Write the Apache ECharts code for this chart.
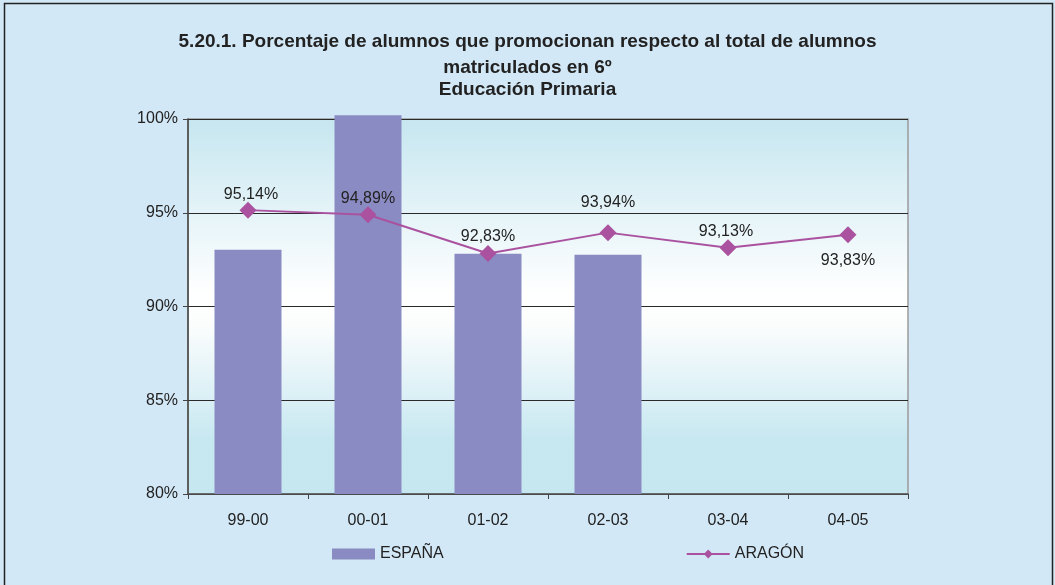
<!DOCTYPE html>
<html>
<head>
<meta charset="utf-8">
<script src="https://cdn.jsdelivr.net/npm/echarts@6/dist/echarts.min.js"></script>
<style>
  html, body { margin: 0; padding: 0; background: #d3e8f6; }
  #chart { width: 1055px; height: 585px; }
</style>
</head>
<body>
<div id="chart"></div>
<script>
// Cursos escolares
const categories = ['99-00', '00-01', '01-02', '02-03', '03-04', '04-05'];
// España: porcentaje de alumnos que promocionan (barras)
const espana = [93.03, 100.2, 92.81, 92.76, null, null];
// Aragón: porcentaje de alumnos que promocionan (línea)
const aragon = [95.14, 94.89, 92.83, 93.94, 93.13, 93.83];
// Líneas del título
const titleLines = [
  '5.20.1. Porcentaje de alumnos que promocionan respecto al total de alumnos',
  'matriculados en 6º',
  'Educación Primaria'
];
const titleTops = [32, 58, 80];
// Escala del eje de porcentajes
const yMin = 80, yMax = 100, yStep = 5;
// Posición de cada etiqueta de la línea
const aragonLabelPos = ['top', 'top', 'top', 'top', 'top', 'bottom'];
const aragonLabelShift = [[3, 2], [0, 1], [0, 1], [0, -13], [-2, 1], [0, 8]];

const font = 'Liberation Sans, Arial, Helvetica, sans-serif';
const fmt = v => v.toFixed(2).replace('.', ',') + '%';

const chart = echarts.init(document.getElementById('chart'), null, { renderer: 'canvas' });

chart.setOption({
  backgroundColor: '#d3e8f6',
  animation: false,
  title: titleLines.map((t, i) => ({
    text: t,
    left: 'center',
    top: titleTops[i],
    padding: 0,
    textStyle: { fontFamily: font, fontSize: 19, fontWeight: 'bold', color: '#222' }
  })),
  legend: {
    left: 327,
    top: 541,
    itemGap: 242,
    itemWidth: 43,
    itemHeight: 11,
    textStyle: { fontFamily: font, fontSize: 16, color: '#222' },
    data: [
      { name: 'ESPAÑA', icon: 'rect' },
      { name: 'ARAGÓN' }
    ]
  },
  grid: {
    left: 188,
    right: 147,
    top: 119,
    bottom: 91,
    show: true,
    borderColor: '#9a9a9a',
    borderWidth: 1.5,
    backgroundColor: {
      type: 'linear', x: 0, y: 0, x2: 0, y2: 1,
      colorStops: [
        { offset: 0, color: '#c6e6f0' },
        { offset: 0.47, color: '#ffffff' },
        { offset: 0.55, color: '#fbfdfd' },
        { offset: 0.85, color: '#c8e8f1' },
        { offset: 1, color: '#c6e7f0' }
      ]
    }
  },
  xAxis: {
    type: 'category',
    data: categories,
    boundaryGap: true,
    axisLine: { lineStyle: { color: '#555', width: 1.5 } },
    axisTick: { show: true, alignWithLabel: false, length: 5, lineStyle: { color: '#444' } },
    axisLabel: { fontFamily: font, fontSize: 16, color: '#222', margin: 19 }
  },
  yAxis: {
    type: 'value',
    min: yMin,
    max: yMax,
    interval: yStep,
    axisLine: { show: true, lineStyle: { color: '#444', width: 1.5 } },
    axisTick: { show: true, length: 5, lineStyle: { color: '#444' } },
    axisLabel: {
      fontFamily: font, fontSize: 16, color: '#222', margin: 10,
      formatter: '{value}%'
    },
    splitLine: { show: true, lineStyle: { color: '#2a2a2a', width: 1 } }
  },
  series: [
    {
      // transparent base so the bars rise from the axis floor
      name: 'base',
      type: 'bar',
      stack: 'es',
      data: espana.map(v => (v == null ? null : yMin)),
      barWidth: 67,
      silent: true,
      itemStyle: { color: 'rgba(0,0,0,0)' }
    },
    {
      name: 'ESPAÑA',
      type: 'bar',
      stack: 'es',
      data: espana.map(v => (v == null ? null : v - yMin)),
      barWidth: 67,
      clip: false,
      itemStyle: { color: '#8a8bc2' }
    },
    {
      name: 'ARAGÓN',
      type: 'line',
      data: aragon.map((v, i) => ({
        value: v,
        label: {
          show: true,
          position: aragonLabelPos[i],
          offset: aragonLabelShift[i]
        }
      })),
      symbol: 'diamond',
      symbolSize: 17,
      lineStyle: { color: '#aa52a0', width: 2 },
      itemStyle: { color: '#aa52a0' },
      label: {
        show: true,
        fontFamily: font,
        fontSize: 16,
        color: '#222',
        distance: 1,
        formatter: p => fmt(p.value)
      },
      z: 5
    }
  ],
  graphic: [
    {
      type: 'rect',
      shape: { x: 4.5, y: 3.5, width: 1048, height: 590 },
      style: { fill: 'none', stroke: '#222', lineWidth: 1.5 },
      silent: true
    }
  ]
});
</script>
</body>
</html>
